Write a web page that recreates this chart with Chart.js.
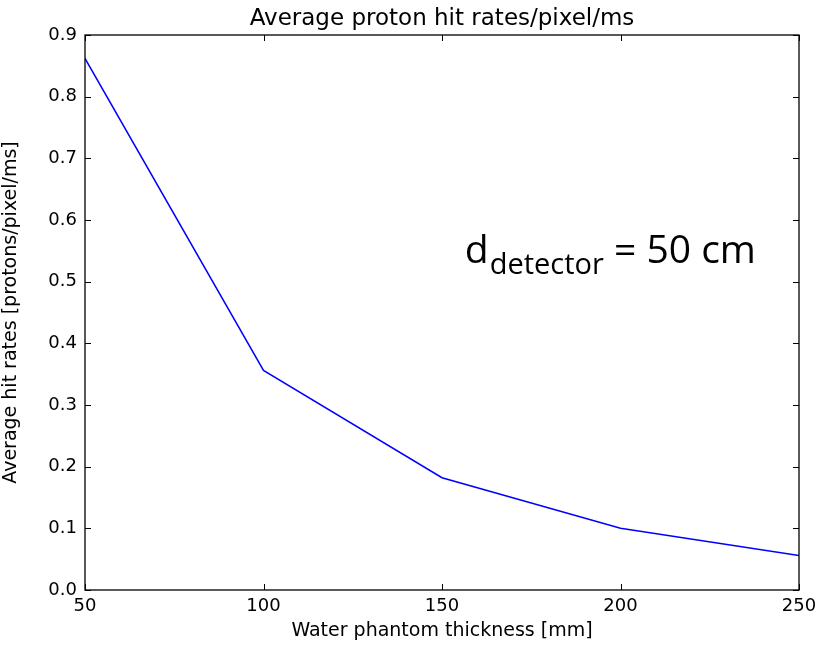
<!DOCTYPE html>
<html>
<head>
<meta charset="utf-8">
<script src="https://cdn.jsdelivr.net/npm/chart.js@4.4.0/dist/chart.umd.min.js"></script>
<style>
  html, body { margin: 0; padding: 0; background: #fff; }
  #wrap { width: 821px; height: 646px; }
</style>
</head>
<body>
<div id="wrap"><canvas id="myChart"></canvas></div>
<script>
// thickness of the water phantom [mm]
var thickness = [50, 100, 150, 200, 250];
// average hit rates [protons/pixel/ms]
var hitRates = [0.862, 0.356, 0.182, 0.100, 0.056];
var xTicks = [50, 100, 150, 200, 250];
var yTicks = [0.0, 0.1, 0.2, 0.3, 0.4, 0.5, 0.6, 0.7, 0.8, 0.9];

var tickFont = { family: 'DejaVu Sans', size: 18 };
var labelFont = { family: 'DejaVu Sans', size: 19 };

// matplotlib style frame with ticks pointing inward on every side
var framePlugin = {
    id: 'frame',
    afterDraw: function(chart) {
        var ctx = chart.ctx;
        var a = chart.chartArea;
        var xs = chart.scales.x, ys = chart.scales.y;
        var len = 6;
        ctx.save();
        ctx.strokeStyle = '#000';
        ctx.lineWidth = 1;
        ctx.beginPath();
        xTicks.forEach(function(v) {
            var px = Math.round(xs.getPixelForValue(v)) + 0.5;
            ctx.moveTo(px, a.bottom); ctx.lineTo(px, a.bottom - len);
            ctx.moveTo(px, a.top); ctx.lineTo(px, a.top + len);
        });
        yTicks.forEach(function(v) {
            var py = Math.round(ys.getPixelForValue(v)) + 0.5;
            ctx.moveTo(a.left, py); ctx.lineTo(a.left + len, py);
            ctx.moveTo(a.right, py); ctx.lineTo(a.right - len, py);
        });
        ctx.stroke();
        ctx.lineWidth = 1.3;
        ctx.strokeRect(a.left, a.top, a.right - a.left, a.bottom - a.top);

        // annotation text
        var tx = a.left + (a.right - a.left) * 0.532;
        var ty = a.top + (a.bottom - a.top) * 0.41;
        ctx.fillStyle = '#000';
        ctx.textBaseline = 'alphabetic';
        ctx.textAlign = 'left';
        ctx.font = '39px "Open Sans"';
        ctx.fillText('d', tx, ty);
        var w = ctx.measureText('d').width;
        ctx.font = '29px "Open Sans"';
        ctx.fillText('detector', tx + w + 1, ty + 11);
        w += ctx.measureText('detector').width + 1;
        ctx.font = '39px "Open Sans"';
        ctx.fillText(' = 50 cm', tx + w, ty);
        ctx.restore();
    }
};

var ctx = document.getElementById('myChart').getContext('2d');
var chart = new Chart(ctx, {
    type: 'line',
    data: {
        datasets: [{
            label: 'hit rate',
            data: thickness.map(function(t, i) { return { x: t, y: hitRates[i] }; }),
            borderColor: '#0000ff',
            borderWidth: 1.5,
            pointRadius: 0,
            fill: false,
            tension: 0
        }]
    },
    options: {
        responsive: true,
        maintainAspectRatio: false,
        animation: false,
        layout: { padding: { top: 0, right: 22, bottom: 4, left: 0 } },
        plugins: {
            legend: { display: false },
            tooltip: { enabled: false }
        },
        scales: {
            // top axis only carries the title, so it is centred over the plot
            top: {
                type: 'linear',
                position: 'top',
                min: 50,
                max: 250,
                afterFit: function(s) { s.height = 35; },
                grid: { display: false, drawTicks: false },
                border: { display: false },
                ticks: { display: false },
                title: {
                    display: true,
                    text: 'Average proton hit rates/pixel/ms',
                    color: '#000',
                    font: { family: 'DejaVu Sans', size: 23 },
                    padding: { top: 5, bottom: 0 }
                }
            },
            x: {
                type: 'linear',
                min: 50,
                max: 250,
                afterBuildTicks: function(s) { s.ticks = xTicks.map(function(v) { return { value: v }; }); },
                afterFit: function(s) { s.height = 52; s.paddingLeft = 0; s.paddingRight = 0; },
                grid: { display: false, drawTicks: false },
                border: { display: false },
                ticks: { color: '#000', font: tickFont, padding: 6, maxRotation: 0 },
                title: {
                    display: true,
                    text: 'Water phantom thickness [mm]',
                    color: '#000',
                    font: labelFont,
                    padding: { top: 2, bottom: 0 }
                }
            },
            y: {
                type: 'linear',
                min: 0,
                max: 0.9,
                afterBuildTicks: function(s) { s.ticks = yTicks.map(function(v) { return { value: v }; }); },
                afterFit: function(s) { s.width = 85; },
                grid: { display: false, drawTicks: false },
                border: { display: false },
                ticks: {
                    color: '#000',
                    font: tickFont,
                    padding: 8,
                    callback: function(v) { return v.toFixed(1); }
                },
                title: {
                    display: true,
                    text: 'Average hit rates [protons/pixel/ms]',
                    color: '#000',
                    font: labelFont,
                    padding: { top: 0, bottom: 8 }
                }
            }
        }
    },
    plugins: [framePlugin]
});
</script>
</body>
</html>
